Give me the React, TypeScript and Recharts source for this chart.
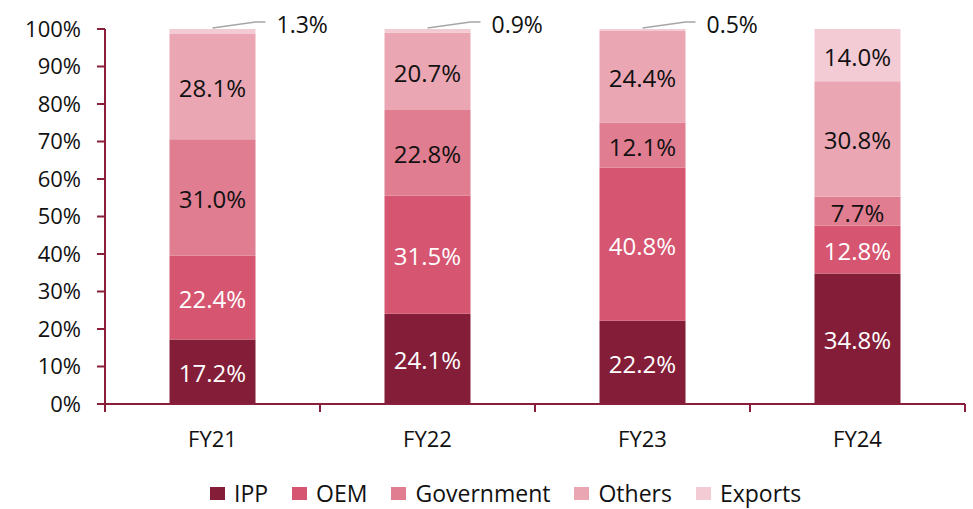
import { BarChart, Bar, XAxis, YAxis, LabelList } from 'recharts';

const categories = ['FY21', 'FY22', 'FY23', 'FY24'];
const ipp = [17.2, 24.1, 22.2, 34.8];
const oem = [22.4, 31.5, 40.8, 12.8];
const government = [31.0, 22.8, 12.1, 7.7];
const others = [28.1, 20.7, 24.4, 30.8];
const exportsShare = [1.3, 0.9, 0.5, 14.0];
const yTicks = [0, 10, 20, 30, 40, 50, 60, 70, 80, 90, 100];

const SERIES = [
  { key: 'IPP', values: ipp, color: '#841D38', text: '#ffffff' },
  { key: 'OEM', values: oem, color: '#D65570', text: '#ffffff' },
  { key: 'Government', values: government, color: '#E07D90', text: '#111111' },
  { key: 'Others', values: others, color: '#EBA6B4', text: '#111111' },
  { key: 'Exports', values: exportsShare, color: '#F3CBD5', text: '#111111' },
];

const data = categories.map((name, i) => {
  const row: Record<string, string | number> = { name };
  SERIES.forEach((s) => (row[s.key] = s.values[i]));
  return row;
});

const W = 973;
const H = 509;
const M = { top: 29, right: 8, bottom: 0, left: 0 };
const Y_W = 105;
const X_H = 105;
const PLOT_BOTTOM = H - X_H;
const BAND = (W - M.right - Y_W) / categories.length;
const AXIS = '#8A1F3B';
const FONT = '"Open Sans", sans-serif';

const makeLabel = (color: string) => (props: any) => {
  const { x, y, width, height, value } = props;
  const cx = Number(x) + Number(width) / 2;
  const top = Number(y);
  if (value < 5) {
    return (
      <g>
        <polyline
          points={`${cx},${top - 1} ${cx + 43},${top - 7} ${cx + 53},${top - 7}`}
          fill="none"
          stroke="#A6A6A6"
          strokeWidth={1.5}
        />
        <text x={cx + 64} y={top - 5} fill="#111" fontSize={23} fontFamily={FONT} dominantBaseline="central">
          {value.toFixed(1)}%
        </text>
      </g>
    );
  }
  return (
    <text
      x={cx}
      y={top + Number(height) / 2 + 1}
      fill={color}
      fontSize={24}
      fontFamily={FONT}
      textAnchor="middle"
      dominantBaseline="central"
    >
      {value.toFixed(1)}%
    </text>
  );
};

const XTick = (props: any) => {
  const { x, index, payload } = props;
  const last = index === categories.length - 1;
  return (
    <g>
      <line x1={x - BAND / 2} x2={x - BAND / 2} y1={PLOT_BOTTOM} y2={PLOT_BOTTOM + 8} stroke={AXIS} strokeWidth={2} />
      {last && (
        <line x1={x + BAND / 2} x2={x + BAND / 2} y1={PLOT_BOTTOM} y2={PLOT_BOTTOM + 8} stroke={AXIS} strokeWidth={2} />
      )}
      <text x={x} y={PLOT_BOTTOM + 34} textAnchor="middle" dominantBaseline="central" fill="#111" fontSize={22} fontFamily={FONT}>
        {payload.value}
      </text>
    </g>
  );
};

export default function App() {
  return (
    <div style={{ position: 'absolute', left: 0, top: 0, width: W, height: H, background: '#fff' }}>
      <BarChart width={W} height={H} data={data} margin={M} barCategoryGap="30%">
        <XAxis
          dataKey="name"
          height={X_H}
          axisLine={{ stroke: AXIS, strokeWidth: 2 }}
          tickLine={false}
          tick={<XTick />}
          interval={0}
        />
        <YAxis
          width={Y_W}
          domain={[0, 100]}
          ticks={yTicks}
          allowDataOverflow
          tickFormatter={(v: number) => `${v}%`}
          axisLine={{ stroke: AXIS, strokeWidth: 2 }}
          tickLine={{ stroke: AXIS, strokeWidth: 2 }}
          tickSize={8}
          tickMargin={16}
          tick={{ fill: '#111', fontSize: 22, fontFamily: FONT }}
        />
        {SERIES.map((s) => (
          <Bar key={s.key} dataKey={s.key} stackId="a" fill={s.color} isAnimationActive={false}>
            <LabelList dataKey={s.key} content={makeLabel(s.text)} />
          </Bar>
        ))}
      </BarChart>
      <div
        style={{
          position: 'absolute',
          left: 210,
          top: 477,
          display: 'flex',
          alignItems: 'center',
          fontFamily: FONT,
          fontSize: 23,
          color: '#111',
          whiteSpace: 'nowrap',
        }}
      >
        {SERIES.map((s) => (
          <div key={s.key} style={{ display: 'flex', alignItems: 'center', marginRight: 24 }}>
            <span style={{ width: 15, height: 13, background: s.color, marginRight: 9, display: 'inline-block' }} />
            <span>{s.key}</span>
          </div>
        ))}
      </div>
    </div>
  );
}
